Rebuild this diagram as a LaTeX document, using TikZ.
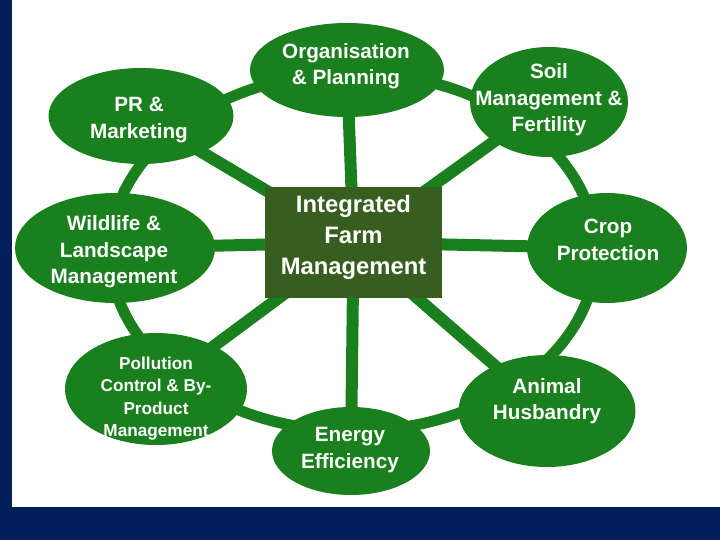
\documentclass[tikz,border=0pt]{standalone}
\usepackage{fontspec}
\setmainfont{Liberation Sans}
\usetikzlibrary{shapes.geometric,backgrounds}
\definecolor{navy}{RGB}{2,31,91}
\definecolor{leaf}{RGB}{26,128,30}
\definecolor{darkleaf}{RGB}{55,94,31}
\begin{document}
\begin{tikzpicture}[x=1pt,y=-1pt,
  ell/.style={ellipse, fill=leaf, inner sep=0pt},
  lbl/.style={text=white, align=center, inner sep=0pt, font=\bfseries\fontsize{20.7}{26.5}\selectfont},
  smalllbl/.style={lbl, font=\bfseries\fontsize{17.2}{22.3}\selectfont},
  biglbl/.style={lbl, font=\bfseries\fontsize{23.8}{31}\selectfont},
  spoke/.style={draw=leaf, line width=12pt},
  ring/.style={draw=leaf, line width=11pt}]
\useasboundingbox (0,0) rectangle (720,540);

\node[rectangle, fill=darkleaf, minimum width=177pt, minimum height=111pt, inner sep=0pt,
  label={[biglbl, yshift=5pt]center:{Integrated\\Farm\\Management}}] (ifm) at (353.5,242.5) {};

\node[ell, minimum width=194pt, minimum height=94pt,
  label={[lbl, yshift=4pt, xshift=-1pt]center:{Organisation\\\& Planning}}] (org) at (347,70) {};
\node[ell, minimum width=158pt, minimum height=110pt,
  label={[lbl, yshift=2pt]center:{Soil\\Management \&\\Fertility}}] (soil) at (549,102) {};
\node[ell, minimum width=160pt, minimum height=110pt,
  label={[lbl, yshift=8pt, xshift=1pt]center:{Crop\\Protection}}] (crop) at (607,248) {};
\node[ell, minimum width=177pt, minimum height=112pt,
  label={[lbl, yshift=10pt]center:{Animal\\Husbandry}}] (animal) at (547,411) {};
\node[ell, minimum width=158pt, minimum height=88pt,
  label={[lbl, yshift=1pt, xshift=-1pt]center:{Energy\\Efficiency}}] (energy) at (351,451) {};
\node[ell, minimum width=182pt, minimum height=112pt,
  label={[smalllbl, yshift=-9.5pt]center:{Pollution\\Control \& By-\\Product\\Management}}] (pollution) at (156,389) {};
\node[ell, minimum width=200pt, minimum height=110pt,
  label={[lbl, yshift=-4pt, xshift=-1pt]center:{Wildlife \&\\Landscape\\Management}}] (wildlife) at (115,248) {};
\node[ell, minimum width=185pt, minimum height=96pt,
  label={[lbl, yshift=-4pt, xshift=-2pt]center:{PR \&\\Marketing}}] (pr) at (141,116) {};

\begin{scope}[on background layer]
  \fill[navy] (0,0) rectangle (720,540);
  \fill[white] (12,0) rectangle (720,507);
  \draw[ring] (353,252) ellipse [x radius=243pt, y radius=179pt];
  \foreach \n in {org,soil,crop,animal,energy,pollution,wildlife,pr}
    \draw[spoke] (ifm.center) -- (\n.center);
\end{scope}
\end{tikzpicture}
\end{document}
